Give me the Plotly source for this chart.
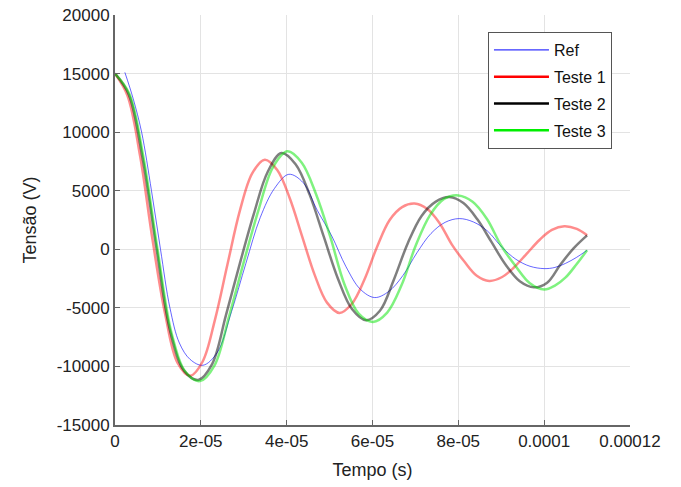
import plotly.graph_objects as go

# --- data (time in s, voltage in V) ---
ref_t = [0.23e-5, 0.42e-5, 0.62e-5, 0.85e-5, 1.06e-5, 1.28e-5, 1.5e-5, 1.75e-5, 2.05e-5,
         2.383e-5, 2.717e-5, 3.05e-5, 3.383e-5, 3.717e-5, 4.05e-5,
         4.383e-5, 4.717e-5, 5.05e-5, 5.383e-5, 5.717e-5, 6.05e-5,
         6.378e-5, 6.707e-5, 7.035e-5, 7.363e-5, 7.692e-5, 8.02e-5,
         8.35e-5, 8.68e-5, 9.01e-5, 9.34e-5, 9.67e-5, 10.0e-5,
         10.25e-5, 10.5e-5, 10.75e-5, 11.0e-5]
ref_v = [15100, 12900, 10000, 5000, 0, -5000, -8000, -9400, -9900,
         -8808, -5300, -1200, 2700, 5200, 6400,
         5695, 3300, 1140, -1490, -3415, -4120,
         -3600, -2250, -300, 1350, 2300, 2620,
         2334, 1553, 200, -850, -1450, -1650,
         -1550, -1200, -700, -85]

t1_t = [0, 0.292e-5, 0.583e-5, 0.875e-5, 1.167e-5, 1.458e-5, 1.75e-5,
        2.04e-5, 2.33e-5, 2.62e-5, 2.91e-5, 3.20e-5, 3.49e-5,
        3.78e-5, 4.07e-5, 4.36e-5, 4.65e-5, 4.94e-5, 5.23e-5,
        5.52e-5, 5.81e-5, 6.105e-5, 6.40e-5, 6.69e-5, 6.98e-5,
        7.27e-5, 7.56e-5, 7.85e-5, 8.14e-5, 8.43e-5, 8.72e-5,
        9.01e-5, 9.30e-5, 9.595e-5, 9.89e-5, 10.18e-5, 10.47e-5,
        10.76e-5, 11.0e-5]
t1_v = [15000, 13100, 8000, 800, -5500, -9700, -10800,
        -9600, -6000, -1300, 3300, 6500, 7650,
        6774, 4380, 1110, -2160, -4554, -5430,
        -4650, -2600, 200, 2500, 3600, 3900,
        3458, 2250, 400, -1050, -2258, -2700,
        -2388, -1535, -370, 795, 1648, 1960,
        1735, 1190]

t2_t = [0, 0.323e-5, 0.647e-5, 0.97e-5, 1.293e-5, 1.617e-5, 1.94e-5,
        2.263e-5, 2.587e-5, 2.91e-5, 3.233e-5, 3.557e-5, 3.88e-5,
        4.208e-5, 4.537e-5, 4.865e-5, 5.193e-5, 5.522e-5, 5.85e-5,
        6.173e-5, 6.497e-5, 6.82e-5, 7.143e-5, 7.467e-5, 7.79e-5,
        8.118e-5, 8.447e-5, 8.775e-5, 9.103e-5, 9.432e-5, 9.76e-5,
        10.07e-5, 10.38e-5, 10.69e-5, 11.0e-5]
t2_v = [15000, 13200, 7700, 0, -7100, -10400, -11150,
        -9800, -5600, -1200, 3000, 6600, 8215,
        7259, 4647, 1078, -2491, -5103, -6060,
        -5250, -2600, 500, 2850, 4050, 4460,
        3943, 2533, 605, -1323, -2733, -3250,
        -2850, -1300, 100, 1190]

t3_t = [0, 0.33e-5, 0.66e-5, 0.99e-5, 1.32e-5, 1.65e-5, 1.98e-5,
        2.32e-5, 2.66e-5, 3.00e-5, 3.34e-5, 3.68e-5, 4.02e-5,
        4.352e-5, 4.683e-5, 5.015e-5, 5.347e-5, 5.678e-5, 6.01e-5,
        6.342e-5, 6.673e-5, 7.005e-5, 7.337e-5, 7.668e-5, 8.0e-5,
        8.333e-5, 8.667e-5, 9.0e-5, 9.333e-5, 9.667e-5, 10.0e-5,
        10.25e-5, 10.5e-5, 10.75e-5, 11.0e-5]
t3_v = [15000, 13300, 7900, 0, -7200, -10500, -11250,
        -9900, -5700, -1100, 3300, 7000, 8360,
        7385, 4720, 1080, -3000, -5500, -6200,
        -5400, -3100, 300, 2900, 4300, 4600,
        4061, 2590, 300, -1430, -2901, -3440,
        -3100, -2400, -1300, -85]

names = ["Ref", "Teste 1", "Teste 2", "Teste 3"]
solid = ["#0000ff", "#ff0000", "#000000", "#00ee00"]
faded = ["rgba(0,0,255,0.6)", "rgba(255,0,0,0.45)", "rgba(0,0,0,0.5)", "rgba(0,230,0,0.5)"]
widths = [1, 2.5, 2.5, 2.5]
series = [(ref_t, ref_v), (t1_t, t1_v), (t2_t, t2_v), (t3_t, t3_v)]

x_tickvals = [0, 2e-5, 4e-5, 6e-5, 8e-5, 1e-4, 1.2e-4]
x_ticktext = ["0", "2e-05", "4e-05", "6e-05", "8e-05", "0.0001", "0.00012"]
y_tickvals = [-15000, -10000, -5000, 0, 5000, 10000, 15000, 20000]
y_ticktext = ["-15000", "-10000", "-5000", "0", "5000", "10000", "15000", "20000"]

fig = go.Figure()
for (tx, vy), c, w in zip(series, faded, widths):
    fig.add_trace(go.Scatter(x=tx, y=vy, mode="lines",
                             line=dict(color=c, width=w, shape="spline", smoothing=1.0),
                             showlegend=False, hoverinfo="skip"))
for n, c, w in zip(names, solid, widths):
    fig.add_trace(go.Scatter(x=[None], y=[None], mode="lines", name=n, legendgroup=n,
                             line=dict(color=c, width=w)))

font = "Liberation Sans, Arial, sans-serif"
fig.update_layout(
    width=681, height=487,
    margin=dict(l=115, r=51, t=15, b=62),
    paper_bgcolor="white", plot_bgcolor="white",
    font=dict(family=font, size=17, color="#222"),
    legend=dict(x=0.965, y=0.9585, xanchor="right", yanchor="top",
                bordercolor="#555", borderwidth=1, bgcolor="white",
                font=dict(size=16, color="#111"), tracegroupgap=3,
                itemwidth=55),
    xaxis=dict(range=[0, 1.2e-4], tickvals=x_tickvals, ticktext=x_ticktext,
               showgrid=True, gridcolor="#e3e3e3", gridwidth=1,
               showline=True, linecolor="#666", linewidth=2,
               ticks="inside", ticklen=5, tickcolor="#666", zeroline=False,
               automargin=False, ticklabeloverflow="allow",
               title=dict(text="Tempo (s)", font=dict(size=18), standoff=13)),
    yaxis=dict(range=[-15000, 20000], tickvals=y_tickvals, ticktext=y_ticktext,
               showgrid=True, gridcolor="#e3e3e3", gridwidth=1,
               showline=True, linecolor="#666", linewidth=2,
               ticks="inside", ticklen=5, tickcolor="#666", zeroline=False,
               automargin=False, ticklabeloverflow="allow",
               title=dict(text="Tensão (V)", font=dict(size=18), standoff=15)),
)
fig.write_html("out.html", config={"displayModeBar": False},
               post_script="document.body.style.margin='0';")
